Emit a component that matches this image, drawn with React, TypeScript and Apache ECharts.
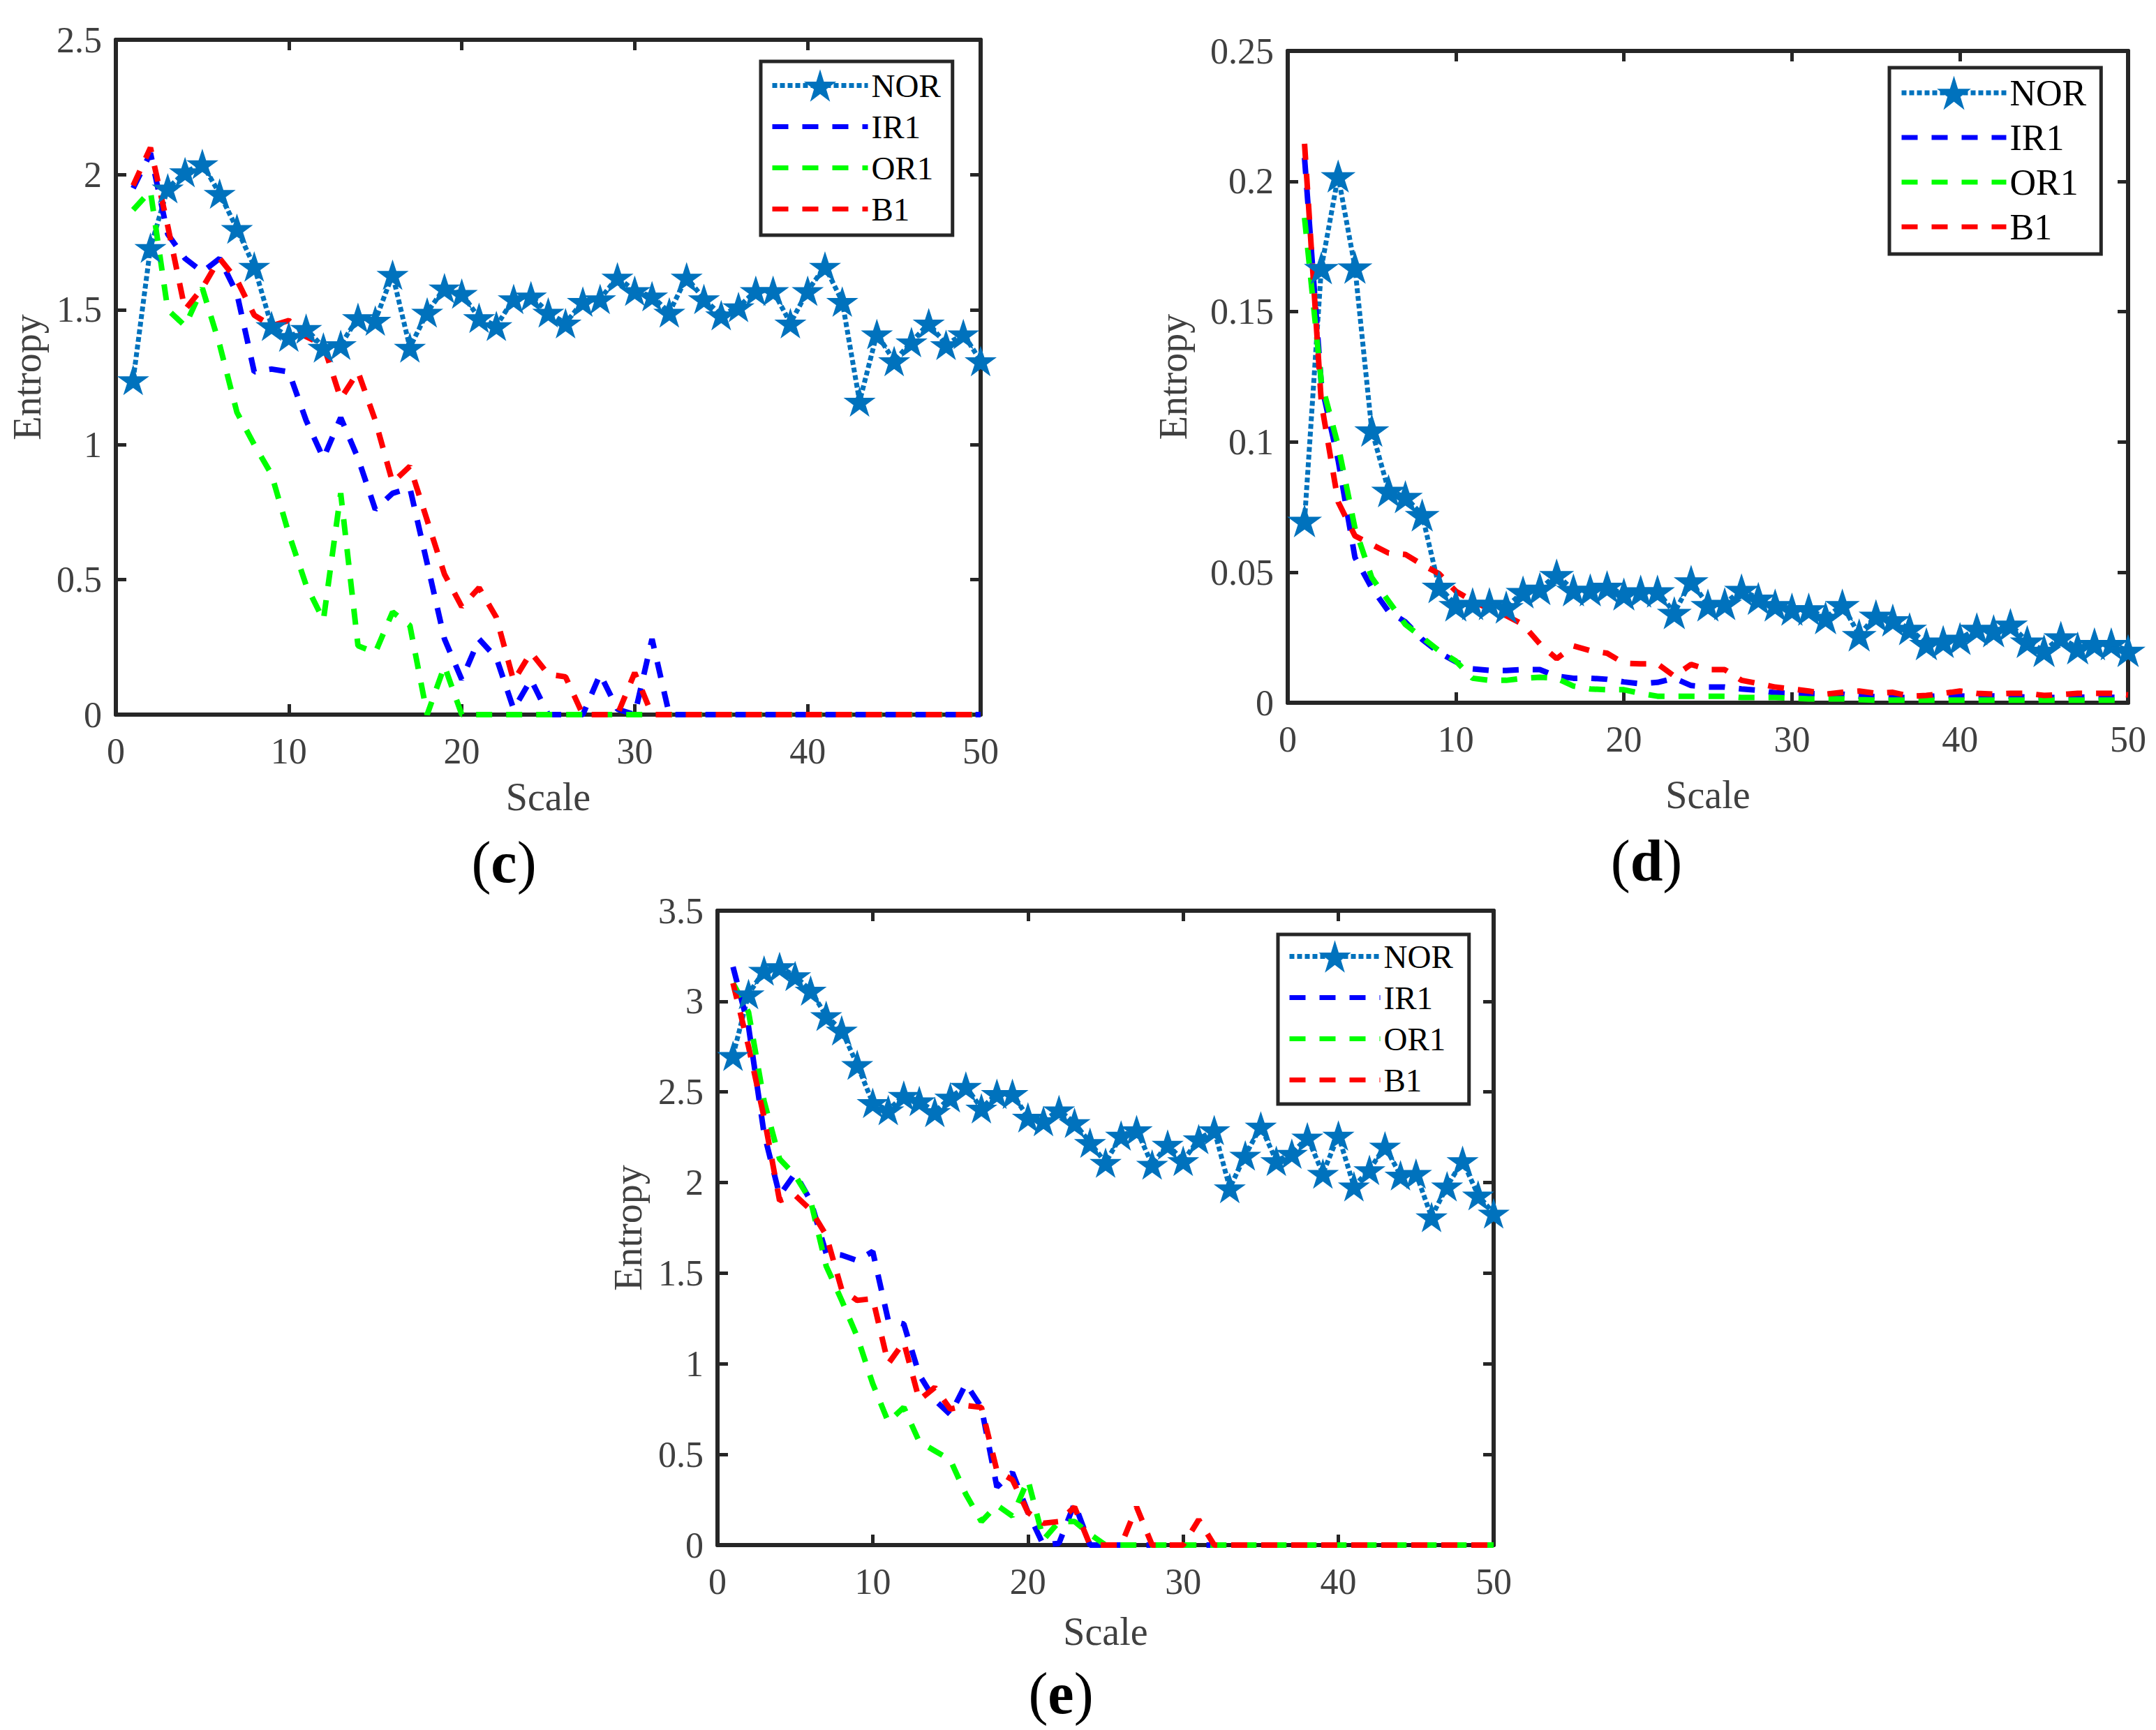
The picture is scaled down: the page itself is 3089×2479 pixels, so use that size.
import { useEffect, useRef } from "react";
import * as echarts from "echarts";

// entropy per scale (scales 1..50)
const NOR_C = [1.24, 1.73, 1.95, 2.01, 2.04, 1.93, 1.8, 1.66, 1.44, 1.4, 1.43, 1.36, 1.37, 1.47, 1.46, 1.63, 1.36, 1.49, 1.58, 1.56, 1.47, 1.44, 1.54, 1.55, 1.49, 1.45, 1.53, 1.54, 1.62, 1.57, 1.55, 1.49, 1.62, 1.54, 1.48, 1.51, 1.57, 1.57, 1.45, 1.57, 1.66, 1.53, 1.16, 1.41, 1.31, 1.38, 1.45, 1.37, 1.41, 1.31];
const IR1_C = [1.95, 2.08, 1.78, 1.69, 1.64, 1.69, 1.56, 1.27, 1.28, 1.27, 1.09, 0.95, 1.1, 0.95, 0.76, 0.82, 0.84, 0.56, 0.28, 0.13, 0.28, 0.21, 0.02, 0.13, 0, 0, 0, 0.15, 0.02, 0, 0.28, 0, 0, 0, 0, 0, 0, 0, 0, 0, 0, 0, 0, 0, 0, 0, 0, 0, 0, 0];
const OR1_C = [1.87, 1.94, 1.5, 1.44, 1.58, 1.37, 1.12, 1.0, 0.89, 0.67, 0.48, 0.35, 0.82, 0.255, 0.23, 0.38, 0.33, 0, 0.18, 0, 0, 0, 0, 0, 0, 0, 0, 0, 0, 0, 0, 0, 0, 0, 0, 0, 0, 0, 0, 0, 0, 0, 0, 0, 0, 0, 0, 0, 0, 0];
const B1_C = [1.96, 2.1, 1.81, 1.5, 1.58, 1.69, 1.61, 1.48, 1.44, 1.46, 1.4, 1.37, 1.17, 1.27, 1.09, 0.86, 0.92, 0.72, 0.52, 0.4, 0.47, 0.36, 0.125, 0.23, 0.15, 0.14, 0, 0, 0, 0.155, 0, 0, 0, 0, 0, 0, 0, 0, 0, 0, 0, 0, 0, 0, 0, 0, 0, 0, 0, 0];

const NOR_D = [0.0698, 0.1668, 0.202, 0.167, 0.1045, 0.0813, 0.079, 0.072, 0.0445, 0.0375, 0.038, 0.038, 0.0367, 0.0425, 0.0438, 0.049, 0.0433, 0.0433, 0.0445, 0.0417, 0.0428, 0.0428, 0.0345, 0.0466, 0.0375, 0.038, 0.0433, 0.04, 0.0375, 0.0359, 0.0359, 0.0326, 0.0375, 0.026, 0.0334, 0.0317, 0.0284, 0.0226, 0.0235, 0.0246, 0.0284, 0.0276, 0.03, 0.0235, 0.02, 0.0251, 0.021, 0.0226, 0.0226, 0.02];
const IR1_D = [0.209, 0.122, 0.093, 0.0557, 0.044, 0.035, 0.031, 0.0243, 0.0193, 0.0157, 0.013, 0.0124, 0.0124, 0.0127, 0.0127, 0.0102, 0.0094, 0.0094, 0.009, 0.008, 0.0073, 0.0078, 0.0094, 0.0066, 0.006, 0.006, 0.0053, 0.0048, 0.0038, 0.0036, 0.0035, 0.0034, 0.0033, 0.0025, 0.0023, 0.0021, 0.002, 0.0024, 0.0027, 0.0026, 0.0024, 0.0026, 0.0024, 0.0022, 0.0021, 0.002, 0.0021, 0.0022, 0.0021, 0.002];
const OR1_D = [0.186, 0.123, 0.0987, 0.067, 0.048, 0.039, 0.03, 0.025, 0.02, 0.016, 0.0094, 0.0086, 0.0086, 0.0094, 0.0098, 0.0094, 0.0064, 0.0053, 0.005, 0.005, 0.0036, 0.0025, 0.0025, 0.0025, 0.0025, 0.0025, 0.002, 0.002, 0.002, 0.0018, 0.0015, 0.0015, 0.0015, 0.0012, 0.001, 0.001, 0.001, 0.001, 0.001, 0.001, 0.001, 0.001, 0.001, 0.001, 0.001, 0.001, 0.001, 0.001, 0.001, 0.001];
const B1_D = [0.2144, 0.115, 0.077, 0.064, 0.0607, 0.0574, 0.0569, 0.053, 0.0495, 0.0428, 0.039, 0.0359, 0.0334, 0.03, 0.0226, 0.0169, 0.0218, 0.02, 0.019, 0.0152, 0.0149, 0.0149, 0.0102, 0.0147, 0.0127, 0.0127, 0.0086, 0.0074, 0.006, 0.0053, 0.0045, 0.0033, 0.004, 0.0045, 0.0036, 0.004, 0.0025, 0.0028, 0.0036, 0.0045, 0.0036, 0.0033, 0.0036, 0.0036, 0.0028, 0.0031, 0.0036, 0.0036, 0.0036, 0.003];

const NOR_E = [2.7, 3.04, 3.17, 3.19, 3.14, 3.06, 2.92, 2.84, 2.65, 2.44, 2.4, 2.48, 2.45, 2.39, 2.47, 2.53, 2.41, 2.49, 2.49, 2.36, 2.34, 2.4, 2.33, 2.22, 2.11, 2.26, 2.29, 2.1, 2.21, 2.12, 2.24, 2.29, 1.97, 2.15, 2.31, 2.12, 2.16, 2.25, 2.05, 2.26, 1.98, 2.07, 2.2, 2.04, 2.05, 1.81, 1.98, 2.12, 1.93, 1.83];
const IR1_E = [3.19, 2.86, 2.27, 1.93, 2.05, 1.9, 1.61, 1.6, 1.57, 1.62, 1.24, 1.22, 0.94, 0.8, 0.72, 0.89, 0.76, 0.32, 0.4, 0.18, 0, 0.01, 0.23, 0, 0, 0, 0, 0, 0, 0, 0, 0, 0, 0, 0, 0, 0, 0, 0, 0, 0, 0, 0, 0, 0, 0, 0, 0, 0, 0];
const OR1_E = [3.1, 2.94, 2.45, 2.13, 2.04, 1.9, 1.54, 1.35, 1.15, 0.89, 0.68, 0.76, 0.57, 0.52, 0.47, 0.28, 0.13, 0.22, 0.16, 0.36, 0.03, 0.13, 0.13, 0.06, 0, 0, 0, 0, 0, 0, 0, 0, 0, 0, 0, 0, 0, 0, 0, 0, 0, 0, 0, 0, 0, 0, 0, 0, 0, 0];
const B1_E = [3.1, 2.75, 2.36, 1.9, 1.93, 1.85, 1.71, 1.41, 1.35, 1.36, 1.0, 1.12, 0.8, 0.87, 0.75, 0.77, 0.76, 0.41, 0.36, 0.18, 0.12, 0.13, 0.21, 0, 0, 0, 0.21, 0, 0, 0, 0.14, 0, 0, 0, 0, 0, 0, 0, 0, 0, 0, 0, 0, 0, 0, 0, 0, 0, 0, 0];

const NAMES = ["NOR", "IR1", "OR1", "B1"];
const COLORS = ["#0072BD", "#0000FF", "#00FF00", "#FF0000"];

const STAR = "path://M50,0L61.2,34.5L97.6,34.5L68.2,55.9L79.4,90.5L50,69.1L20.6,90.5L31.8,55.9L2.4,34.5L38.8,34.5Z";
const FONT = "Liberation Serif";
const AXIS = "#262626";
const LABEL = "#404040";

const DOTTED = { width: 7, type: [7, 4] };
const DASHED = { width: 8, type: [23, 20] };

const panels = [
  {
    tag: "c", tagX: 722, tagY: 1235,
    grid: { left: 166, top: 57, width: 1239, height: 967 },
    yMax: 2.5, yStep: 0.5, gapX: 90, gapY: 99, star: 46,
    legend: { left: 1090, top: 88, itemWidth: 137, itemHeight: 58, itemGap: 12, fontSize: 47, padding: [11, 17, 14, 13] },
    values: [NOR_C, IR1_C, OR1_C, B1_C],
  },
  {
    tag: "d", tagX: 2359, tagY: 1233,
    grid: { left: 1845, top: 73, width: 1204, height: 934 },
    yMax: 0.25, yStep: 0.05, gapX: 104, gapY: 136, star: 50,
    legend: { left: 2707, top: 97, itemWidth: 150, itemHeight: 61, itemGap: 12, fontSize: 52, padding: [10, 21, 13, 14] },
    values: [NOR_D, IR1_D, OR1_D, B1_D],
  },
  {
    tag: "e", tagX: 1520, tagY: 2426,
    grid: { left: 1028, top: 1305, width: 1112, height: 909 },
    yMax: 3.5, yStep: 0.5, gapX: 96, gapY: 100, star: 46,
    legend: { left: 1831, top: 1339, itemWidth: 130, itemHeight: 58, itemGap: 12, fontSize: 47, padding: [8, 23, 11, 13] },
    values: [NOR_E, IR1_E, OR1_E, B1_E],
  },
];

const toPairs = (vals: number[]) => vals.map((v, i) => [i + 1, v]);

const frameAxis = {
  type: "value",
  axisLine: { show: true, onZero: false, lineStyle: { color: AXIS, width: 6 } },
  axisTick: { show: true, inside: true, length: 15, lineStyle: { color: AXIS, width: 5 } },
  splitLine: { show: false },
};

function buildOption() {
  const grid: any[] = [];
  const xAxis: any[] = [];
  const yAxis: any[] = [];
  const series: any[] = [];
  const legend: any[] = [];
  const graphic: any[] = [];

  panels.forEach((p, i) => {
    grid.push({ ...p.grid, containLabel: false });

    const xScale = { min: 0, max: 50, interval: 10 };
    xAxis.push({
      ...frameAxis, ...xScale, gridIndex: i, position: "bottom",
      axisLabel: { fontFamily: FONT, fontSize: 52, color: LABEL, margin: 26 },
      name: "Scale", nameLocation: "middle", nameGap: p.gapX,
      nameTextStyle: { fontFamily: FONT, fontSize: 56, color: LABEL },
    });
    xAxis.push({ ...frameAxis, ...xScale, gridIndex: i, position: "top", axisLabel: { show: false } });

    const yScale = { min: 0, max: p.yMax, interval: p.yStep };
    yAxis.push({
      ...frameAxis, ...yScale, gridIndex: i, position: "left",
      axisLabel: {
        fontFamily: FONT, fontSize: 52, color: LABEL, margin: 20,
        formatter: (v: number) => String(parseFloat(v.toFixed(3))),
      },
      name: "Entropy", nameLocation: "middle", nameGap: p.gapY, nameRotate: 90,
      nameTextStyle: { fontFamily: FONT, fontSize: 56, color: LABEL },
    });
    yAxis.push({ ...frameAxis, ...yScale, gridIndex: i, position: "right", axisLabel: { show: false } });

    p.values.forEach((vals, k) => {
      const isNor = k === 0;
      series.push({
        type: "line",
        name: NAMES[k],
        xAxisIndex: 2 * i,
        yAxisIndex: 2 * i,
        data: toPairs(vals),
        symbol: isNor ? STAR : "none",
        symbolSize: isNor ? p.star : 0,
        symbolKeepAspect: true,
        showSymbol: isNor,
        itemStyle: { color: COLORS[k] },
        lineStyle: { color: COLORS[k], ...(isNor ? DOTTED : DASHED) },
        silent: true,
      });
    });

    legend.push({
      orient: "vertical",
      left: p.legend.left,
      top: p.legend.top,
      itemWidth: p.legend.itemWidth,
      itemHeight: p.legend.itemHeight,
      itemGap: p.legend.itemGap,
      padding: p.legend.padding,
      borderColor: AXIS,
      borderWidth: 5,
      backgroundColor: "#fff",
      selectedMode: false,
      textStyle: { fontFamily: FONT, fontSize: p.legend.fontSize, color: "#000" },
      data: NAMES.map((n, k) =>
        k === 0
          ? { name: n, lineStyle: { color: COLORS[k], width: 7, type: [7, 4] } }
          : { name: n, itemStyle: { opacity: 0 }, lineStyle: { color: COLORS[k], width: 7, type: [23, 20] } }
      ),
    });

    graphic.push({
      type: "text",
      x: p.tagX,
      y: p.tagY,
      style: {
        text: `{p|(}{b|${p.tag}}{p|)}`,
        align: "center",
        verticalAlign: "middle",
        rich: {
          p: { fontFamily: FONT, fontSize: 84, fill: "#000" },
          b: { fontFamily: FONT, fontSize: 84, fontWeight: "bold", fill: "#000" },
        },
      },
    });
  });

  return { animation: false, backgroundColor: "#fff", grid, xAxis, yAxis, series, legend, graphic };
}

export default function App() {
  const divRef = useRef<HTMLDivElement>(null);

  useEffect(() => {
    if (!divRef.current) return;
    const chart = echarts.init(divRef.current, null, { renderer: "svg" });
    chart.setOption(buildOption());
    return () => {
      chart.dispose();
    };
  }, []);

  return (
    <div
      ref={divRef}
      style={{ position: "absolute", left: 0, top: 0, width: 3089, height: 2479, background: "#fff" }}
    />
  );
}
